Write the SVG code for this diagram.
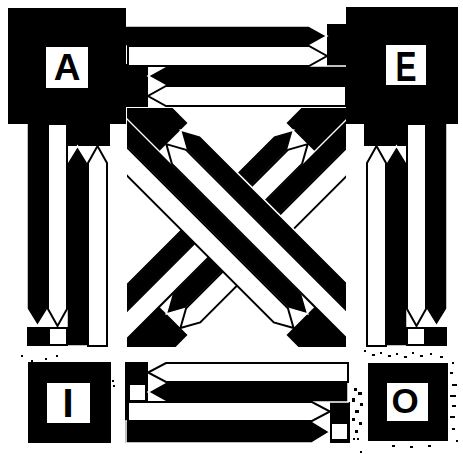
<svg xmlns="http://www.w3.org/2000/svg" width="463" height="454" viewBox="0 0 463 454">
<defs>
<style>
.blk{fill:#000;stroke:none}
.ba{fill:#000;stroke:#fff;stroke-width:1.5;stroke-linejoin:miter}
.wa{fill:#fff;stroke:#000;stroke-width:2;stroke-linejoin:miter}
.lbox{fill:#fff;stroke:none}
.dot{fill:#000}
.lt{font-family:"Liberation Sans",Arial,sans-serif;font-weight:bold;fill:#000;text-anchor:middle}
</style>
<clipPath id="xclip"><rect x="127" y="108" width="219" height="239"/></clipPath>
<g id="diag">
<rect class="blk" x="-180" y="-40" width="70" height="40"/>
<rect class="blk" x="110" y="0" width="70" height="40"/>
<polygon class="ba" points="-180,0 92,0 110,10 92,20 -180,20"/>
<polygon class="ba" points="180,-40 -92,-40 -110,-30 -92,-20 180,-20"/>
<polygon class="wa" points="-180,20 92,20 110,30 92,40 -180,40"/>
<polygon class="wa" points="180,-20 -92,-20 -110,-10 -92,0 180,0"/>
</g>
<g id="vconn">
<rect class="blk" x="67" y="120" width="43" height="26"/>
<polygon class="ba" points="27,122 48,122 48,309 37.5,326 27,309"/>
<polygon class="ba" points="67,346 67,163 77.5,146 88,163 88,346"/>
<polygon class="wa" points="48,124 67,124 67,309 57.5,326 48,309"/>
<polygon class="wa" points="88,346 88,163 97.5,146 107,163 107,346"/>
<rect class="blk" x="27" y="327" width="21" height="19"/>
<rect class="wa" x="49" y="328" width="18" height="17"/>
</g>
</defs>

<g id="connectors">
  <g id="conn-AE">
    <rect class="blk" x="120" y="64" width="28" height="43"/>
    <rect class="blk" x="327" y="24" width="22" height="42"/>
    <polygon class="ba" points="124,26 309,26 327,36 309,46 124,46"/>
    <polygon class="ba" points="347,66 166,66 148,76 166,86 347,86"/>
    <polygon class="wa" points="128,46 309,46 327,56 309,66 128,66"/>
    <polygon class="wa" points="346,86 166,86 148,96 166,106 346,106"/>
  </g>
  <g id="conn-AI"><use href="#vconn"/></g>
  <g id="conn-EO"><use href="#vconn" transform="translate(474,0) scale(-1,1)"/></g>
  <g id="conn-IO">
    <rect class="blk" x="125" y="362" width="23" height="41"/>
    <rect class="blk" x="125" y="362" width="3" height="81"/>
    <rect class="blk" x="330" y="402" width="20" height="41"/>
    <polygon class="ba" points="348,382 166,382 148,392 166,402 348,402"/>
    <polygon class="ba" points="126,421 312,421 330,432 312,443 126,443"/>
    <polygon class="wa" points="348,363 166,363 148,372.5 166,382 348,382"/>
    <polygon class="wa" points="128,402 312,402 330,411.5 312,421 128,421"/>
    <rect class="wa" x="129" y="384" width="17" height="17"/>
    <rect class="wa" x="331" y="423" width="17" height="17"/>
  </g>
  <g id="conn-diagonals" clip-path="url(#xclip)">
    <g id="conn-EI"><use href="#diag" transform="translate(237,229) scale(-1,1) rotate(45)"/></g>
    <g id="conn-AO"><use href="#diag" transform="translate(237,229) rotate(45)"/></g>
  </g>
</g>

<g id="node-A">
  <rect class="blk" x="8" y="8" width="118" height="116"/>
  <rect class="lbox" x="46" y="47" width="42" height="41"/>
  <text class="lt" x="67" y="80" font-size="37">A</text>
</g>
<g id="node-E">
  <rect class="blk" x="346" y="7" width="112" height="117"/>
  <rect class="lbox" x="386" y="45" width="40" height="40"/>
  <text class="lt" x="0" y="0" font-size="42" transform="translate(406,81) scale(0.75,1)">E</text>
</g>
<g id="node-I">
  <rect class="blk" x="28" y="362" width="83" height="81"/>
  <rect class="lbox" x="47" y="383" width="43" height="40"/>
  <text class="lt" x="68" y="417" font-size="40">I</text>
  <rect class="dot" x="21" y="355" width="2" height="2"/>
  <rect class="dot" x="31" y="360" width="2" height="2"/>
  <rect class="dot" x="45" y="358" width="2" height="2"/>
  <rect class="dot" x="56" y="355" width="2" height="2"/>
  <rect class="dot" x="112" y="380" width="2" height="2"/>
  <rect class="dot" x="113" y="385" width="2" height="2"/>
</g>
<g id="node-O">
  <rect class="blk" x="368" y="363" width="80" height="78"/>
  <rect class="lbox" x="387" y="383" width="41" height="38"/>
  <text class="lt" x="405" y="413" font-size="35">O</text>
  <g id="scan-noise">
    <rect class="dot" x="354" y="388" width="3" height="3"/>
    <rect class="dot" x="358" y="392" width="4" height="3"/>
    <rect class="dot" x="352" y="398" width="3" height="4"/>
    <rect class="dot" x="360" y="403" width="3" height="3"/>
    <rect class="dot" x="355" y="410" width="4" height="3"/>
    <rect class="dot" x="352" y="418" width="3" height="3"/>
    <rect class="dot" x="359" y="422" width="3" height="3"/>
    <rect class="dot" x="355" y="430" width="3" height="3"/>
    <rect class="dot" x="353" y="438" width="2" height="2"/>
    <rect class="dot" x="357" y="438" width="2" height="2"/>
    <rect class="dot" x="364" y="350" width="2" height="2"/>
    <rect class="dot" x="372" y="354" width="3" height="2"/>
    <rect class="dot" x="380" y="352" width="2" height="2"/>
    <rect class="dot" x="388" y="355" width="3" height="2"/>
    <rect class="dot" x="396" y="353" width="2" height="2"/>
    <rect class="dot" x="404" y="356" width="3" height="2"/>
    <rect class="dot" x="412" y="352" width="2" height="2"/>
    <rect class="dot" x="420" y="355" width="3" height="2"/>
    <rect class="dot" x="430" y="353" width="2" height="2"/>
    <rect class="dot" x="440" y="356" width="3" height="2"/>
    <rect class="dot" x="452" y="362" width="2" height="2"/>
    <rect class="dot" x="450" y="372" width="3" height="2"/>
    <rect class="dot" x="452" y="384" width="5" height="2"/>
    <rect class="dot" x="450" y="395" width="6" height="2"/>
    <rect class="dot" x="452" y="405" width="4" height="2"/>
    <rect class="dot" x="450" y="416" width="5" height="2"/>
    <rect class="dot" x="452" y="428" width="3" height="2"/>
    <rect class="dot" x="456" y="440" width="2" height="2"/>
    <rect class="dot" x="392" y="445" width="3" height="2"/>
    <rect class="dot" x="410" y="446" width="3" height="2"/>
    <rect class="dot" x="428" y="445" width="3" height="2"/>
    <rect class="dot" x="360" y="451" width="2" height="2"/>
  </g>
</g>
</svg>
